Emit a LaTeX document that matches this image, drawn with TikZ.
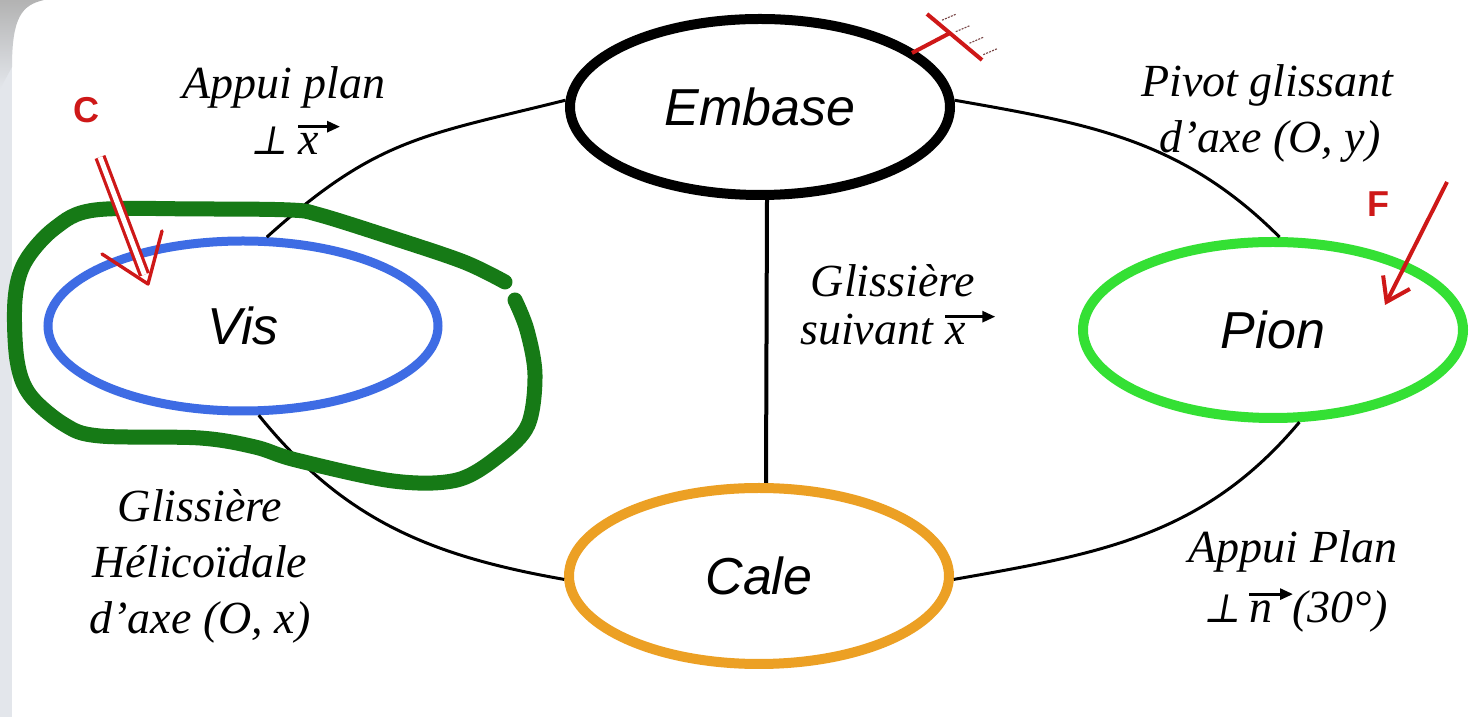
\documentclass[tikz,border=0pt]{standalone}
\usepackage{fontspec}
\setmainfont{Liberation Serif}
\setsansfont{Liberation Sans}
\newfontfamily\perpfont[FakeSlant=0.18]{DejaVu Serif}
\usetikzlibrary{shapes.geometric,arrows.meta,calc}

\definecolor{visblue}{RGB}{62,108,228}
\definecolor{piongreen}{RGB}{52,224,52}
\definecolor{caleorange}{RGB}{236,160,36}
\definecolor{markgreen}{RGB}{22,122,22}
\definecolor{markred}{RGB}{206,24,24}
\definecolor{hatchgray}{RGB}{120,70,70}
\definecolor{edgegray}{RGB}{227,230,235}

\newcommand\perpsym{{\perpfont\fontsize{40}{44}\selectfont ⊥}}

\begin{document}
\begin{tikzpicture}[x=1pt,y=1pt,
  part/.style={ellipse, draw, line width=10pt, minimum width=380pt,
    minimum height=176pt, inner sep=0pt,
    font=\fontsize{52}{60}\selectfont\sffamily\itshape},
  lab/.style={inner sep=0pt, font=\fontsize{46}{56}\selectfont\itshape},
  link/.style={line width=3pt},
  vecarr/.style={line width=2.8pt, -{Triangle[length=13pt,width=11pt]}},
  redmark/.style={inner sep=0pt, text=markred,
    font=\fontsize{36}{40}\selectfont\sffamily\bfseries},
  hatch/.style={hatchgray, line width=1.1pt, dash pattern=on 2pt off 1.2pt}
]
\useasboundingbox (0,0) rectangle (1473,717);
\fill[white] (0,0) rectangle (1473,717);

% faint frame on the left edge, darker in the top corner
\fill[edgegray] (0,0) rectangle (12,717);
\shade[top color=gray!60, bottom color=edgegray]
  (0,717) -- (44,717) .. controls (22,712) and (12,700) .. (12,650) -- (0,628) -- cycle;

% the four parts
\node[part] (emb) at (760,610) {Embase};
\node[part, draw=visblue, line width=9pt, minimum width=390pt,
      minimum height=170pt] (vis) at (243,391) {Vis};
\node[part, draw=piongreen] (pion) at (1273,387) {Pion};
\node[part, draw=caleorange] (cale) at (759,141) {Cale};

% links between the parts
\draw[link] (emb.2) to[out=-10, in=135] (pion.86);
\draw[link] (pion.-74) to[out=-130, in=10] (cale.-1);
\draw[link] (cale.181) to[out=170, in=-51] (vis.-80);
\draw[link] (vis.75) to[out=42, in=-166, looseness=1.15] (emb.178);
\draw[link, line width=4pt] ([xshift=7pt]emb.south) -- ([xshift=7pt]cale.north);

% joint names
\node[lab, anchor=base] (apl1) at (284,618) {Appui plan};
\node[lab, anchor=base west] (aplperp) at (250,562) {\perpsym};
\node[lab, anchor=base west] (aplx) at ([xshift=10pt]aplperp.base east) {x};
\draw[vecarr] ([yshift=7pt]aplx.north west) -- ++(42,0);

\node[lab, anchor=base] (pg1) at (1267,620) {Pivot glissant};
\node[lab, anchor=base] (pg2) at (1270,564) {d’axe (O, y)};

\node[lab, anchor=base] (gs1) at (893,420) {Glissière};
\node[lab, anchor=base west] (gs2) at (800,372) {suivant};
\node[lab, anchor=base west] (gsx) at ([xshift=12pt]gs2.base east) {x};
\draw[vecarr] ([yshift=7pt]gsx.north west) -- ++(50,0);

\node[lab, anchor=base] (gh1) at (200,195) {Glissière};
\node[lab, anchor=base] (gh2) at (200,139) {Hélicoïdale};
\node[lab, anchor=base] (gh3) at (200,83) {d’axe (O, x)};

\node[lab, anchor=base] (apP1) at (1293,154) {Appui Plan};
\node[lab, anchor=base west] (apPperp) at (1203,94) {\perpsym};
\node[lab, anchor=base west] (apPn) at ([xshift=8pt]apPperp.base east) {n};
\node[lab, anchor=base west] (apP30) at ([xshift=20pt]apPn.base east) {(30°)};
\draw[vecarr] ([yshift=7pt]apPn.north west) -- ++(44,0);

% hand-drawn outline around the screw
\draw[markgreen, line width=15pt, line cap=round, line join=round]
  plot[smooth, tension=0.55] coordinates {
  (505,435) (464,455) (393,479) (320,502) (290,507) (200,508) (95,507)
  (55,489) (25,455) (15,417) (17,357) (30,322) (65,292) (100,281)
  (200,279) (255,270) (296,257) (393,236) (457,237) (500,262)
  (528,292) (535,342) (527,387) (515,417)};

% couple C on the screw
\node[redmark] (cmark) at (86,607) {C};
\coordinate (ctail) at (100,560);
\coordinate (ctip) at (148,433);
\draw[markred, line width=3.2pt, double=white, double distance=5pt]
  (ctail) -- ($(ctip)!10pt!(ctail)$);
\draw[markred, line width=3.4pt, line cap=round, line join=round]
  ($(ctip)+(-46,30)$) -- (ctip) -- ($(ctip)+(14,53)$);

% force F on the pin
\node[redmark] (fmark) at (1378,513) {F};
\coordinate (ftail) at (1447,535);
\coordinate (ftip) at (1385,412);
\draw[markred, line width=4pt, -{Straight Barb[length=22pt,width=30pt]}]
  (ftail) -- (ftip);

% frame (ground) symbol on the base
\coordinate (gstem) at (912,664);
\coordinate (gjoint) at (950,684);
\coordinate (gbarA) at (927,703);
\coordinate (gbarB) at (982,657);
\draw[markred, line width=4pt] (gstem) -- (gjoint);
\draw[markred, line width=4pt] (gbarA) -- (gbarB);
\foreach \t in {0.2,0.45,0.7,0.95}
  \draw[hatch] ($(gbarA)!\t!(gbarB)+(4,3)$) -- ++(14,6);
\end{tikzpicture}
\end{document}
